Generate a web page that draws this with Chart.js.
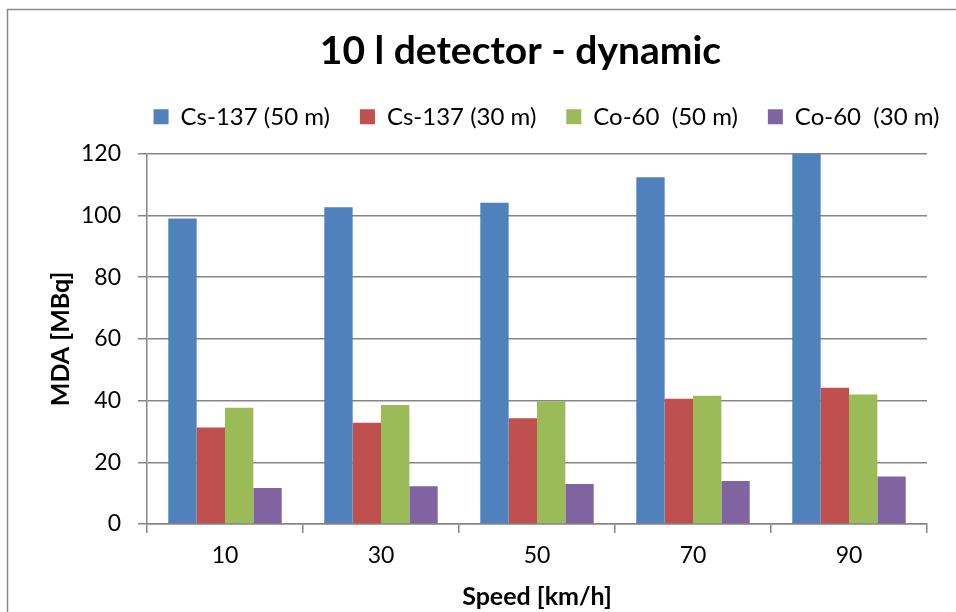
<!DOCTYPE html>
<html>
<head>
<meta charset="utf-8">
<script src="https://cdn.jsdelivr.net/npm/chart.js@4.4.1/dist/chart.umd.min.js"></script>
<style>
  html, body { margin: 0; padding: 0; background: #fff; }
  #wrap { width: 956px; height: 612px; position: relative; }
</style>
</head>
<body>
<div id="wrap"><canvas id="myChart" width="956" height="612"></canvas></div>
<script>
// chart data
const speeds = ["10", "30", "50", "70", "90"];
const seriesNames = ["Cs-137 (50 m)", "Cs-137 (30 m)", "Co-60  (50 m)", "Co-60  (30 m)"];
const cs137At50 = [99.0, 102.7, 104.1, 112.4, 120.0];
const cs137At30 = [31.3, 32.8, 34.3, 40.6, 44.2];
const co60At50 = [37.7, 38.6, 39.8, 41.6, 42.0];
const co60At30 = [11.7, 12.2, 13.0, 13.9, 15.4];
const yTicks = [0, 20, 40, 60, 80, 100, 120];

const barColors = ["#4F81BD", "#C0504D", "#9BBB59", "#8064A2"];
const gridGray = "#868686";

// frame round the chart, like the office chart border
const chartFrame = {
  id: "chartFrame",
  beforeDraw(chart) {
    const ctx = chart.ctx;
    ctx.save();
    ctx.strokeStyle = "#8a8a8a";
    ctx.lineWidth = 1.5;
    ctx.strokeRect(7.5, 9.5, 1000, 700);
    ctx.restore();
  },
};

// move title / legend sideways and give the legend some room below it
const boxTweaks = {
  id: "boxTweaks",
  afterInit(chart) {
    const legend = chart.legend;
    const origFit = legend.fit;
    legend.fit = function () {
      origFit.call(this);
      this.height += 15;
    };
  },
  afterLayout(chart) {
    chart.legend.left += 60;
    chart.legend.right += 60;
    chart.titleBlock.left += 34;
    chart.titleBlock.right += 34;
  },
};

const chartContainer = document.getElementById("myChart").getContext("2d");

const myChart = new Chart(chartContainer, {
  type: "bar",
  data: {
    labels: speeds,
    datasets: [cs137At50, cs137At30, co60At50, co60At30].map((vals, i) => ({
      label: seriesNames[i],
      data: vals,
      backgroundColor: barColors[i],
      borderWidth: 0,
      categoryPercentage: 0.727,
      barPercentage: 1.0,
    })),
  },
  options: {
    responsive: false,
    animation: false,
    layout: {
      padding: { left: 46, right: 29, top: 0, bottom: 0 },
    },
    plugins: {
      title: {
        display: true,
        text: "10 l detector - dynamic",
        color: "#000",
        font: { family: "Lato", size: 39, weight: "bold" },
        padding: { top: 28, bottom: 0 },
      },
      legend: {
        display: true,
        position: "top",
        labels: {
          color: "#000",
          font: { family: "Lato", size: 24 },
          boxWidth: 15,
          boxHeight: 15,
          padding: 30,
        },
      },
      tooltip: { enabled: false },
    },
    scales: {
      x: {
        afterFit: (scale) => {
          scale.height = 88;
        },
        grid: {
          display: true,
          drawOnChartArea: false,
          drawTicks: true,
          tickLength: 9,
          color: gridGray,
          lineWidth: 1.5,
        },
        border: { display: true, color: gridGray, width: 1.5 },
        ticks: {
          color: "#000",
          font: { family: "Lato", size: 23 },
          padding: 9,
        },
        title: {
          display: true,
          text: "Speed [km/h]",
          color: "#000",
          font: { family: "Lato", size: 25, weight: "bold" },
          padding: { top: 0, bottom: 0 },
        },
      },
      y: {
        min: 0,
        max: 120,
        afterFit: (scale) => {
          scale.width = 101;
        },
        afterBuildTicks: (scale) => {
          scale.ticks = yTicks.map((v) => ({ value: v }));
        },
        grid: {
          color: gridGray,
          lineWidth: 1.5,
          tickLength: 9,
        },
        border: { display: true, color: gridGray, width: 1.5 },
        ticks: {
          color: "#000",
          font: { family: "Lato", size: 23 },
          padding: 17,
        },
        title: {
          display: true,
          text: "MDA [MBq]",
          color: "#000",
          font: { family: "Lato", size: 25, weight: "bold" },
          padding: { top: 0, bottom: 0 },
        },
      },
    },
  },
  plugins: [chartFrame, boxTweaks],
});
</script>
</body>
</html>
